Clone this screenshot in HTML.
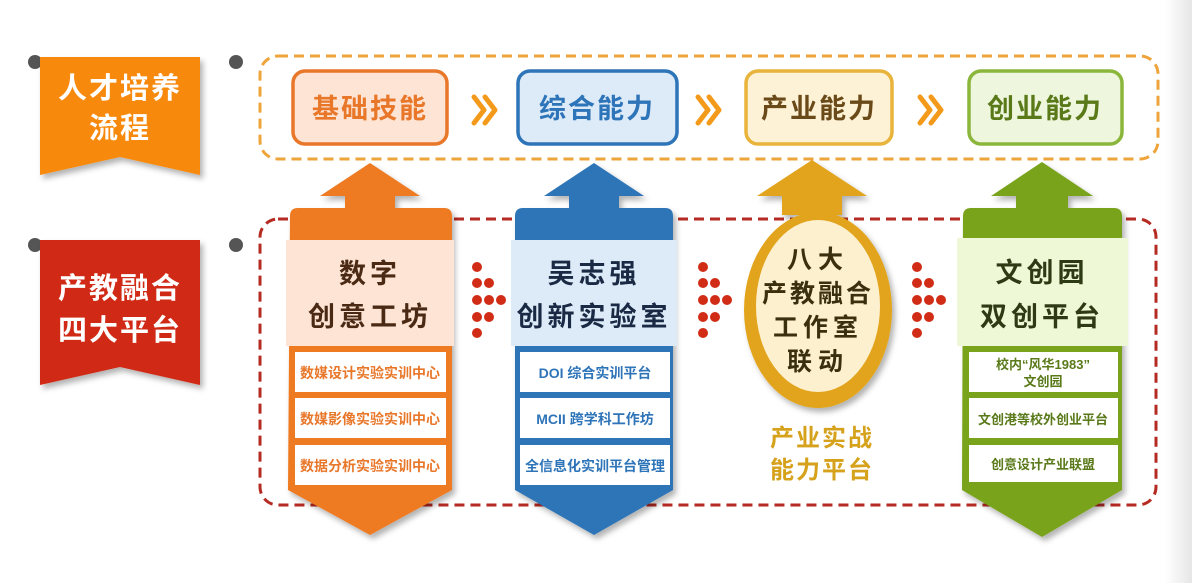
<!DOCTYPE html>
<html><head><meta charset="utf-8"><style>
html,body{margin:0;padding:0;background:#fff;}
svg{display:block;}
text{font-family:"Liberation Sans","Noto Sans CJK SC",sans-serif;font-weight:bold;}
</style></head><body>
<svg width="1192" height="583" viewBox="0 0 1192 583" xmlns="http://www.w3.org/2000/svg">
<defs>
<linearGradient id="rg" x1="0" x2="1"><stop offset="0" stop-color="#fff"/><stop offset="1" stop-color="#e6e6e6"/></linearGradient>
<filter id="sh" x="-20%" y="-20%" width="140%" height="140%"><feDropShadow dx="3" dy="4" stdDeviation="3" flood-color="#000" flood-opacity="0.3"/></filter>
</defs>
<rect x="1165" y="0" width="27" height="583" fill="url(#rg)"/>

<!-- banners -->
<circle cx="35" cy="62" r="7" fill="#555"/><circle cx="236" cy="62" r="7" fill="#555"/>
<polygon points="40,57 200,57 200,175 120,157 40,175" fill="#f7890f" filter="url(#sh)"/>
<text x="120" y="98" font-size="29" fill="#fff" text-anchor="middle" letter-spacing="2">人才培养</text>
<text x="120" y="138" font-size="29" fill="#fff" text-anchor="middle" letter-spacing="2">流程</text>

<circle cx="35" cy="245" r="7" fill="#555"/><circle cx="236" cy="245" r="7" fill="#555"/>
<polygon points="40,240 200,240 200,385 120,367 40,385" fill="#d02c16" filter="url(#sh)"/>
<text x="120" y="298" font-size="29" fill="#fff" text-anchor="middle" letter-spacing="2">产教融合</text>
<text x="120" y="340" font-size="29" fill="#fff" text-anchor="middle" letter-spacing="2">四大平台</text>

<!-- dashed boxes -->
<rect x="260" y="56" width="898" height="103" rx="18" fill="none" stroke="#eea43a" stroke-width="3" stroke-dasharray="10 6"/>
<rect x="260" y="219" width="896" height="286" rx="18" fill="none" stroke="#b52a22" stroke-width="3" stroke-dasharray="10 6"/>

<!-- top boxes -->
<rect x="293" y="71" width="154" height="73" rx="12" fill="#fde4d4" stroke="#e8772a" stroke-width="3.5"/>
<text x="370" y="118" font-size="27" fill="#e8772a" text-anchor="middle" letter-spacing="2">基础技能</text>
<rect x="518" y="71" width="159" height="73" rx="12" fill="#ddeaf8" stroke="#2e74b8" stroke-width="3.5"/>
<text x="597" y="118" font-size="27" fill="#2e74b8" text-anchor="middle" letter-spacing="2">综合能力</text>
<rect x="746" y="71" width="146" height="73" rx="12" fill="#fdf1d6" stroke="#e8b43c" stroke-width="3.5"/>
<text x="819" y="118" font-size="27" fill="#6b4a1a" text-anchor="middle" letter-spacing="2">产业能力</text>
<rect x="969" y="71" width="153" height="73" rx="12" fill="#eff6de" stroke="#8bb63c" stroke-width="3.5"/>
<text x="1045" y="118" font-size="27" fill="#5a7a1a" text-anchor="middle" letter-spacing="2">创业能力</text>
<g fill="none" stroke-width="5" stroke-linecap="round" stroke-linejoin="round" stroke="#f49a1a">
<polyline points="474,97 484,110 474,123"/><polyline points="485,97 495,110 485,123"/>
<polyline points="698,97 708,110 698,123"/><polyline points="709,97 719,110 709,123"/>
<polyline points="920,97 930,110 920,123"/><polyline points="931,97 941,110 931,123"/>
</g>

<!-- column 1 orange -->
<g filter="url(#sh)">
<polygon points="370,163 420,196 395,196 395,210 345,210 345,196 320,196" fill="#ee7a22"/>
<path d="M290,216 q0,-8 8,-8 h146 q8,0 8,8 v274 l-82,45 l-82,-45 z" fill="#ee7a22"/>
</g>
<rect x="286" y="240" width="168" height="106" fill="#fde4d4"/>
<text x="370" y="283" font-size="27" fill="#4a2a14" text-anchor="middle" letter-spacing="4">数字</text>
<text x="370" y="326" font-size="27" fill="#4a2a14" text-anchor="middle" letter-spacing="4">创意工坊</text>
<rect x="295" y="352" width="151" height="40" fill="#fff"/>
<rect x="295" y="398" width="151" height="40" fill="#fff"/>
<rect x="295" y="445" width="151" height="40" fill="#fff"/>
<g font-size="14" fill="#e8772a" text-anchor="middle"><text x="370" y="378">数媒设计实验实训中心</text><text x="370" y="424">数媒影像实验实训中心</text><text x="370" y="471">数据分析实验实训中心</text></g>

<!-- column 2 blue -->
<g filter="url(#sh)">
<polygon points="594,163 644,196 619,196 619,210 569,210 569,196 544,196" fill="#2e74b8"/>
<path d="M515,216 q0,-8 8,-8 h142 q8,0 8,8 v274 l-79,45 l-79,-45 z" fill="#2e74b8"/>
</g>
<rect x="511" y="240" width="166" height="106" fill="#ddeaf8"/>
<text x="594" y="283" font-size="27" fill="#1a2a44" text-anchor="middle" letter-spacing="4">吴志强</text>
<text x="594" y="326" font-size="27" fill="#1a2a44" text-anchor="middle" letter-spacing="4">创新实验室</text>
<rect x="520" y="352" width="150" height="40" fill="#fff"/>
<rect x="520" y="398" width="150" height="40" fill="#fff"/>
<rect x="520" y="445" width="150" height="40" fill="#fff"/>
<g font-size="14" fill="#2e74b8" text-anchor="middle"><text x="595" y="378">DOI 综合实训平台</text><text x="595" y="424">MCII 跨学科工作坊</text><text x="595" y="471">全信息化实训平台管理</text></g>

<!-- column 3 gold -->
<g filter="url(#sh)">
<polygon points="812,160 867,196 842,196 842,215 782,215 782,196 757,196" fill="#e2a41a"/>
<ellipse cx="818" cy="310" rx="74" ry="98" fill="#e2a41a"/>
</g>
<ellipse cx="818" cy="306" rx="62" ry="86" fill="#fdf0cf"/>
<g font-size="25" fill="#3a3010" text-anchor="middle"><text x="818" y="268" letter-spacing="6">八大</text><text x="818" y="302" letter-spacing="3">产教融合</text><text x="818" y="336" letter-spacing="5">工作室</text><text x="818" y="370" letter-spacing="6">联动</text></g>
<text x="822" y="446" font-size="24" fill="#d6a21c" text-anchor="middle" letter-spacing="2">产业实战</text>
<text x="822" y="478" font-size="24" fill="#d6a21c" text-anchor="middle" letter-spacing="2">能力平台</text>

<!-- column 4 green -->
<g filter="url(#sh)">
<polygon points="1042,162 1093,196 1068,196 1068,210 1016,210 1016,196 991,196" fill="#7aa31e"/>
<path d="M963,216 q0,-8 8,-8 h143 q8,0 8,8 v274 l-80,47 l-80,-47 z" fill="#7aa31e"/>
</g>
<rect x="957" y="238" width="171" height="108" fill="#eef7d6"/>
<text x="1042" y="282" font-size="27" fill="#2e3a14" text-anchor="middle" letter-spacing="4">文创园</text>
<text x="1042" y="326" font-size="27" fill="#2e3a14" text-anchor="middle" letter-spacing="4">双创平台</text>
<rect x="969" y="352" width="149" height="40" fill="#fff"/>
<rect x="969" y="398" width="149" height="40" fill="#fff"/>
<rect x="969" y="445" width="149" height="37" fill="#fff"/>
<g font-size="13" fill="#5a7a1a" text-anchor="middle"><text x="1043" y="369">校内“风华1983”</text><text x="1043" y="386">文创园</text><text x="1043" y="424">文创港等校外创业平台</text><text x="1043" y="469">创意设计产业联盟</text></g>

<!-- dots -->
<g fill="#d02c16">
<g id="d"><circle cx="477" cy="267" r="5"/><circle cx="477" cy="283" r="5"/><circle cx="477" cy="300" r="5"/><circle cx="477" cy="317" r="5"/><circle cx="477" cy="333" r="5"/><circle cx="489" cy="283" r="5"/><circle cx="489" cy="300" r="5"/><circle cx="489" cy="317" r="5"/><circle cx="501" cy="300" r="5"/></g>
<use href="#d" x="226"/><use href="#d" x="440"/>
</g>
</svg>
</body></html>
